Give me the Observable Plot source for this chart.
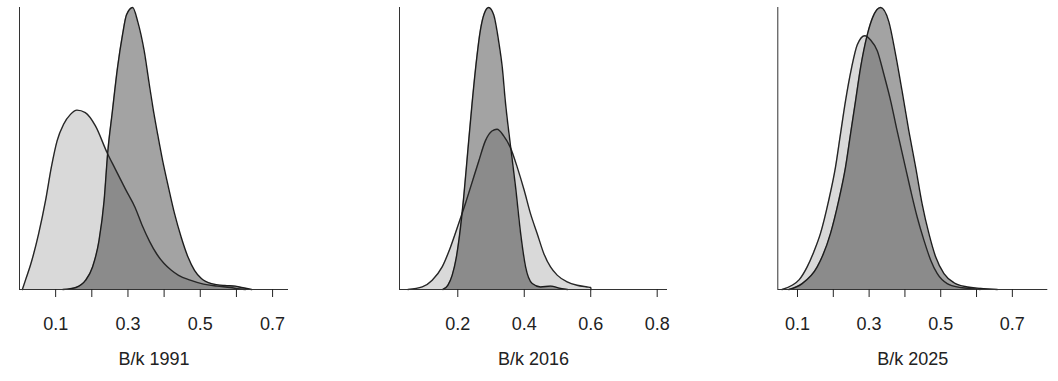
<!DOCTYPE html>
<html>
<head>
<meta charset="utf-8">
<script src="https://cdn.jsdelivr.net/npm/d3@7"></script>
<script src="https://cdn.jsdelivr.net/npm/@observablehq/plot@0.6"></script>
<style>
  html, body { margin: 0; padding: 0; background: #fff; }
  #wrap { position: relative; width: 1058px; height: 381px; overflow: hidden; }
  #wrap > div { position: absolute; top: 0; }
</style>
</head>
<body>
<div id="wrap"><div id="p1" style="left:0"></div><div id="p2" style="left:380px"></div><div id="p3" style="left:760px"></div></div>
<script>
// ---- Data (relative density heights) ----
const titles = ["B/k 1991", "B/k 2016", "B/k 2025"];

// 1991 – light series
const light1991_x = [0.008,0.017,0.030,0.053,0.072,0.088,0.104,0.122,0.141,0.159,0.182,0.210,0.242,0.265,0.293,0.320,0.340,0.360,0.380,0.400,0.420,0.440,0.472,0.509,0.546,0.583,0.610,0.625];
const light1991_y = [0,0.035,0.085,0.198,0.315,0.433,0.527,0.586,0.621,0.636,0.627,0.58,0.486,0.427,0.356,0.29,0.225,0.17,0.125,0.092,0.068,0.05,0.033,0.019,0.012,0.007,0.002,0];
// 1991 – dark series
const dark1991_x = [0.120,0.140,0.156,0.183,0.202,0.220,0.234,0.244,0.257,0.271,0.285,0.296,0.313,0.327,0.345,0.359,0.369,0.382,0.396,0.410,0.429,0.447,0.466,0.484,0.503,0.531,0.568,0.596,0.614,0.642];
const dark1991_y = [0,0.003,0.007,0.033,0.08,0.174,0.315,0.486,0.633,0.786,0.904,0.974,1.0,0.95,0.845,0.727,0.645,0.551,0.456,0.374,0.268,0.186,0.115,0.068,0.039,0.021,0.014,0.012,0.007,0];

// 2016 – light series
const light2016_x = [0.050,0.093,0.123,0.153,0.178,0.203,0.223,0.243,0.263,0.283,0.303,0.318,0.338,0.358,0.379,0.400,0.419,0.439,0.459,0.479,0.499,0.529,0.559,0.589,0.600,0.601];
const light2016_y = [0,0.009,0.033,0.08,0.15,0.235,0.305,0.38,0.455,0.527,0.562,0.568,0.545,0.504,0.433,0.351,0.268,0.198,0.127,0.08,0.051,0.027,0.015,0.009,0.007,0];
// 2016 – dark series
const dark2016_x = [0.155,0.170,0.183,0.195,0.205,0.218,0.230,0.243,0.255,0.268,0.280,0.293,0.308,0.323,0.334,0.343,0.358,0.374,0.389,0.404,0.424,0.449,0.479,0.509,0.530];
const dark2016_y = [0,0.015,0.05,0.11,0.19,0.33,0.49,0.66,0.80,0.92,0.98,1.0,0.974,0.88,0.786,0.668,0.515,0.362,0.20,0.08,0.021,0.009,0.012,0.004,0];

// 2025 – light series
const light2025_x = [0.057,0.085,0.105,0.127,0.146,0.164,0.187,0.206,0.220,0.234,0.251,0.267,0.288,0.304,0.323,0.341,0.360,0.378,0.397,0.416,0.434,0.453,0.472,0.490,0.518,0.555,0.592,0.610];
const light2025_y = [0,0.015,0.035,0.08,0.135,0.198,0.315,0.433,0.551,0.668,0.786,0.868,0.9,0.885,0.846,0.764,0.67,0.564,0.458,0.352,0.258,0.175,0.104,0.057,0.021,0.007,0.002,0];
// 2025 – dark series
const dark2025_x = [0.076,0.113,0.155,0.192,0.215,0.234,0.248,0.262,0.276,0.295,0.310,0.332,0.355,0.374,0.392,0.411,0.430,0.448,0.467,0.486,0.509,0.537,0.574,0.611,0.658];
const dark2025_y = [0,0.021,0.08,0.198,0.315,0.433,0.551,0.668,0.786,0.904,0.965,1.0,0.95,0.833,0.704,0.562,0.433,0.304,0.198,0.115,0.056,0.024,0.009,0.004,0];

// Tick values and labels
const ticks1991 = [0.1,0.2,0.3,0.4,0.5,0.6,0.7];
const labels1991 = ["0.1","","0.3","","0.5","","0.7"];
const ticks2016 = [0.2,0.4,0.6,0.8];
const labels2016 = ["0.2","0.4","0.6","0.8"];
const ticks2025 = [0.1,0.2,0.3,0.4,0.5,0.6,0.7];
const labels2025 = ["0.1","","0.3","","0.5","","0.7"];

// ---- Drawing ----
const font = "'Liberation Sans', Arial, Helvetica, sans-serif";
const toRows = (xs, ys) => xs.map((x, i) => ({x, y: ys[i]}));

function panel({el, width, marginLeft, marginRight, domain, ticks, labels, title, light, dark}) {
  const lab = new Map(ticks.map((t, i) => [t, labels[i]]));
  const chart = Plot.plot({
    width, height: 381,
    marginLeft, marginRight, marginTop: 7, marginBottom: 92,
    style: {fontFamily: font, color: "#222", background: "#fff", overflow: "visible"},
    x: {domain},
    y: {domain: [0, 1], axis: null},
    marks: [
      Plot.areaY(light, {x: "x", y: "y", fill: "black", fillOpacity: 0.15, curve: "monotone-x"}),
      Plot.areaY(dark, {x: "x", y: "y", fill: "black", fillOpacity: 0.36, curve: "monotone-x"}),
      Plot.lineY(light, {x: "x", y: "y", stroke: "#262626", strokeWidth: 1.4, curve: "monotone-x"}),
      Plot.lineY(dark, {x: "x", y: "y", stroke: "#1c1c1c", strokeWidth: 1.4, curve: "monotone-x"}),
      Plot.ruleY([0], {stroke: "#333", strokeWidth: 1}),
      Plot.ruleX([domain[0]], {stroke: "#333", strokeWidth: 1}),
      Plot.axisX({ticks, tickFormat: d => lab.get(d) ?? "", tickSize: 8, tickPadding: 20, fontSize: 18, label: null}),
      Plot.text([title], {frameAnchor: "bottom", lineAnchor: "middle", dy: 70, fontSize: 18, fill: "#222"})
    ]
  });
  document.getElementById(el).appendChild(chart);
}

panel({el: "p1", width: 380, marginLeft: 19, marginRight: 92, domain: [0.0, 0.744],
  ticks: ticks1991, labels: labels1991, title: titles[0],
  light: toRows(light1991_x, light1991_y), dark: toRows(dark1991_x, dark1991_y)});
panel({el: "p2", width: 380, marginLeft: 19, marginRight: 93, domain: [0.0246, 0.831],
  ticks: ticks2016, labels: labels2016, title: titles[1],
  light: toRows(light2016_x, light2016_y), dark: toRows(dark2016_x, dark2016_y)});
panel({el: "p3", width: 298, marginLeft: 17.3, marginRight: 10.7, domain: [0.045, 0.799],
  ticks: ticks2025, labels: labels2025, title: titles[2],
  light: toRows(light2025_x, light2025_y), dark: toRows(dark2025_x, dark2025_y)});
</script>
</body>
</html>
